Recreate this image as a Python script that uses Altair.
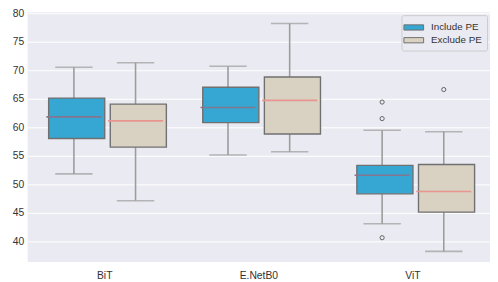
import altair as alt
import pandas as pd

# ---- data ----
models = ["BiT", "BiT", "E.NetB0", "E.NetB0", "ViT", "ViT"]
groups = ["Include PE", "Exclude PE"] * 3
q1 = [58.0, 56.5, 60.8, 58.8, 48.3, 45.1]
med = [61.8, 61.1, 63.45, 64.7, 51.55, 48.7]
q3 = [65.1, 64.05, 67.0, 68.8, 53.3, 53.45]
lo = [51.8, 47.1, 55.1, 55.7, 43.05, 38.2]
hi = [70.5, 71.3, 70.7, 78.2, 59.45, 59.2]

out_model = ["ViT", "ViT", "ViT", "ViT"]
out_group = ["Include PE", "Include PE", "Include PE", "Exclude PE"]
out_val = [64.4, 61.5, 40.6, 66.6]

cats = ["BiT", "E.NetB0", "ViT"]
group_order = ["Include PE", "Exclude PE"]
box_colors = ["#35A7D2", "#D9D2C2"]
median_colors = {"Include PE": "#84768F", "Exclude PE": "#E8958F"}
y_ticks = [40, 45, 50, 55, 60, 65, 70, 75, 80]

df = pd.DataFrame(dict(model=models, group=groups, q1=q1, med=med, q3=q3, lo=lo, hi=hi))
dfo = pd.DataFrame(dict(model=out_model, group=out_group, val=out_val))

FONT = "Liberation Sans"

xenc = alt.X("model:N", sort=cats, title=None,
             scale=alt.Scale(paddingInner=0.2, paddingOuter=0.1),
             axis=alt.Axis(labelAngle=0, ticks=False, domain=False, grid=False,
                           labelFontSize=10.5, labelColor="#333333", labelFont=FONT,
                           labelPadding=9))
xo = alt.XOffset("group:N", sort=group_order,
                 scale=alt.Scale(domain=group_order, paddingInner=0, paddingOuter=0))
yscale = alt.Scale(domain=[36.33, 80.17], nice=False, zero=False)
yaxis = alt.Axis(values=y_ticks, ticks=False, domain=False, grid=True,
                 gridColor="white", gridWidth=1, labelFontSize=10.5,
                 labelColor="#333333", labelFont=FONT, labelPadding=4,
                 labelOverlap=False, labelBound=False)


def Y(field):
    return alt.Y(field, scale=yscale, axis=yaxis, title=None)


base = alt.Chart(df)

whisk_lo = base.mark_rule(color="#9C9C9C", strokeWidth=1.6).encode(
    x=xenc, xOffset=xo, y=Y("lo:Q"), y2="q1:Q")
whisk_hi = base.mark_rule(color="#9C9C9C", strokeWidth=1.6).encode(
    x=xenc, xOffset=xo, y=Y("q3:Q"), y2="hi:Q")
cap_lo = base.mark_tick(color="#9C9C9C", size=38, thickness=1.6).encode(
    x=xenc, xOffset=xo, y=Y("lo:Q"))
cap_hi = base.mark_tick(color="#9C9C9C", size=38, thickness=1.6).encode(
    x=xenc, xOffset=xo, y=Y("hi:Q"))

boxes = base.mark_bar(width=alt.RelativeBandSize(0.91), stroke="#707070",
                      strokeWidth=1.4, opacity=1).encode(
    x=xenc, xOffset=xo,
    y=Y("q1:Q"), y2="q3:Q",
    color=alt.Color("group:N", sort=group_order,
                    scale=alt.Scale(domain=group_order, range=box_colors),
                    legend=alt.Legend(title=None, orient="top-right", offset=3,
                                      symbolType="M-1.43,-0.38H1.43V0.38H-1.43Z",
                                      symbolSize=196, symbolStrokeColor="#707070",
                                      symbolStrokeWidth=1, symbolOpacity=1,
                                      labelFontSize=10, labelFont=FONT,
                                      labelColor="#333333", labelOffset=10,
                                      rowPadding=0, padding=5,
                                      fillColor="#EAEAF2", strokeColor="#CCCCCC",
                                      cornerRadius=2)))

medians = []
for g in group_order:
    medians.append(
        base.transform_filter(alt.datum.group == g).mark_tick(
            color=median_colors[g], size=56, thickness=1.6, opacity=1).encode(
            x=xenc, xOffset=xo, y=Y("med:Q")))

outliers = alt.Chart(dfo).mark_point(shape="circle", filled=False, size=18,
                                     color="#555555", strokeWidth=0.9, opacity=1).encode(
    x=xenc, xOffset=xo, y=Y("val:Q"))

chart = alt.layer(whisk_lo, whisk_hi, cap_lo, cap_hi, boxes, *medians, outliers).properties(
    width=470, height=254,
    autosize=alt.AutoSizeParams(type="none"),
    padding={"left": 20, "top": 2, "right": 0, "bottom": 18},
    background="white",
).configure_view(fill="#EAEAF2", stroke=None)

chart.save("out.html", embed_options={"renderer": "svg", "actions": False})
